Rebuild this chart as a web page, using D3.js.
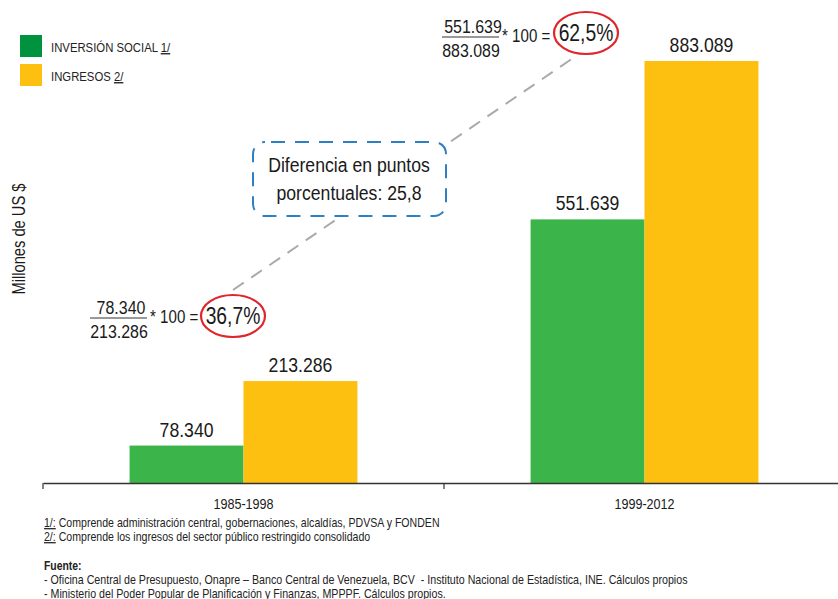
<!DOCTYPE html>
<html>
<head>
<meta charset="utf-8">
<script src="https://cdn.jsdelivr.net/npm/d3@7"></script>
<style>
  html, body { margin: 0; padding: 0; background: #fff; }
  svg { display: block; font-family: "Liberation Sans", Arial, sans-serif; }
</style>
</head>
<body>
<svg id="chart" width="838" height="599"></svg>
<script>
// Periods and series (millones de US $)
const periods = ["1985-1998", "1999-2012"];
const inversionSocial = [78340, 551639];
const ingresos = [213286, 883089];
const seriesNames = ["INVERSIÓN SOCIAL", "INGRESOS"];
const seriesNotes = ["1/", "2/"];
const footnotes = [
  ["1/:", " Comprende administración central, gobernaciones, alcaldías, PDVSA y FONDEN"],
  ["2/:", " Comprende los ingresos del sector público restringido consolidado"]
];
const sources = [
  "- Oficina Central de Presupuesto, Onapre – Banco Central de Venezuela, BCV  - Instituto Nacional de Estadística, INE. Cálculos propios",
  "- Ministerio del Poder Popular de Planificación y Finanzas, MPPPF. Cálculos propios."
];

const GREEN = "#3bb54a", GREEN_LEGEND = "#00923f", YELLOW = "#fdc010";
const RED = "#e0262c", BLUE = "#2e7fc3", INK = "#1a1a1a";
const NARROW = 0.84; // horizontal squeeze for a condensed look

const es = d3.formatLocale({ decimal: ",", thousands: ".", grouping: [3], currency: ["", "$"] });
const fmtNum = es.format(",d");
const fmtPct = es.format(".1f");

const svg = d3.select("#chart");

// Scales
const x = d3.scaleBand().domain(periods).range([43, 845]);
const xSub = d3.scaleBand().domain([0, 1]).range([0, x.bandwidth()]).paddingOuter(0.76).paddingInner(0);
const y = d3.scaleLinear().domain([0, d3.max(ingresos)]).range([483, 61]);

const rows = periods.map((p, i) => ({ period: p, values: [inversionSocial[i], ingresos[i]] }));

// Bars with value labels
const g = svg.append("g");
rows.forEach(r => {
  r.values.forEach((v, k) => {
    const bx = x(r.period) + xSub(k);
    g.append("rect")
      .attr("x", bx).attr("width", xSub.bandwidth())
      .attr("y", y(v)).attr("height", y(0) - y(v))
      .attr("fill", k === 0 ? GREEN : YELLOW);
    g.append("text")
      .attr("x", bx + xSub.bandwidth() / 2).attr("y", y(v) - 9)
      .attr("text-anchor", "middle").attr("font-size", 21).attr("fill", INK)
      .text(fmtNum(v));
  });
});

// X axis
const axis = svg.append("g").attr("transform", `translate(0,${y(0)})`)
  .call(d3.axisBottom(x).tickSize(0).tickPadding(15));
axis.select(".domain").attr("stroke", "#333").attr("stroke-width", 1.5);
axis.selectAll(".tick text").attr("font-size", 15).attr("fill", INK)
  .attr("font-family", "Liberation Sans, Arial, sans-serif");
[x.range()[0], x(periods[1])].forEach(t => {
  axis.append("line").attr("x1", t).attr("x2", t).attr("y1", 0).attr("y2", 6)
    .attr("stroke", "#333").attr("stroke-width", 1.2);
});

// Y axis title
svg.append("text")
  .attr("transform", "translate(25,239) rotate(-90)")
  .attr("text-anchor", "middle").attr("font-size", 17.5).attr("fill", INK)
  .text("Millones de US $");

// Legend
[GREEN_LEGEND, YELLOW].forEach((c, i) => {
  const ly = 35 + i * 29;
  svg.append("rect").attr("x", 20).attr("y", ly).attr("width", 22).attr("height", 22).attr("fill", c);
  const t = svg.append("text").attr("x", 51).attr("y", ly + 17).attr("font-size", 13.5).attr("fill", "#222");
  t.append("tspan").text(seriesNames[i] + " ");
  t.append("tspan").attr("text-decoration", "underline").text(seriesNotes[i]);
});

// Ratio annotations
const pct = periods.map((p, i) => +(inversionSocial[i] / ingresos[i] * 100).toFixed(1));
const diff = pct[1] - pct[0];

const formulas = [
  { i: 0, fx: 119, fy: 318, cx: 233, cy: 316 },
  { i: 1, fx: 471, fy: 37, cx: 586, cy: 33 }
];

// dashed link between the two percentages
svg.append("line")
  .attr("x1", formulas[0].cx).attr("y1", formulas[0].cy - 26)
  .attr("x2", formulas[1].cx - 10).attr("y2", formulas[1].cy + 23)
  .attr("stroke", "#aaa").attr("stroke-width", 2).attr("stroke-dasharray", "13,9");

formulas.forEach(f => {
  const gf = svg.append("g").attr("fill", INK);
  gf.append("text").attr("x", f.fx + 2).attr("y", f.fy - 4).attr("text-anchor", "middle")
    .attr("font-size", 19).text(fmtNum(inversionSocial[f.i]));
  gf.append("line").attr("x1", f.fx - 29).attr("x2", f.fx + 28).attr("y1", f.fy).attr("y2", f.fy)
    .attr("stroke", "#333").attr("stroke-width", 1);
  gf.append("text").attr("x", f.fx).attr("y", f.fy + 20).attr("text-anchor", "middle")
    .attr("font-size", 19).text(fmtNum(ingresos[f.i]));
  gf.append("text").attr("x", f.fx + 31).attr("y", f.fy + 5).attr("font-size", 18).text("* 100 =");
  gf.append("ellipse").attr("cx", f.cx).attr("cy", f.cy).attr("rx", 32).attr("ry", 21)
    .attr("fill", "#fff").attr("stroke", RED).attr("stroke-width", 2.2);
  gf.append("text").attr("x", f.cx).attr("y", f.cy + 8).attr("text-anchor", "middle")
    .attr("font-size", 23).text(fmtPct(pct[f.i]) + "%");
});

// Difference box
svg.append("rect").attr("x", 253).attr("y", 142).attr("width", 193).attr("height", 74)
  .attr("rx", 12).attr("fill", "#fff").attr("stroke", BLUE).attr("stroke-width", 2)
  .attr("stroke-dasharray", "14,10").attr("stroke-dashoffset", -6);
const bt = svg.append("text").attr("x", 349).attr("text-anchor", "middle").attr("font-size", 21).attr("fill", INK);
bt.append("tspan").attr("x", 349).attr("y", 172).text("Diferencia en puntos");
bt.append("tspan").attr("x", 349).attr("y", 200).text("porcentuales: " + fmtPct(diff));

// Footnotes and sources
footnotes.forEach((fn, i) => {
  const t = svg.append("text").attr("x", 44).attr("y", 527 + i * 14).attr("font-size", 12.6).attr("fill", "#222");
  t.append("tspan").attr("text-decoration", "underline").text(fn[0]);
  t.append("tspan").text(fn[1]);
});
svg.append("text").attr("x", 44).attr("y", 570).attr("font-size", 12.4).attr("font-weight", "bold")
  .attr("fill", "#222").text("Fuente:");
sources.forEach((s, i) => {
  svg.append("text").attr("x", 44).attr("y", 584 + i * 14).attr("font-size", 12.7)
    .attr("xml:space", "preserve").attr("fill", "#222").text(s);
});

// Condense every label horizontally around its anchor point
svg.selectAll("text").each(function () {
  const el = d3.select(this);
  const ax = +(el.attr("x") || 0);
  const prev = el.attr("transform") || "";
  el.attr("transform", `${prev} translate(${ax * (1 - NARROW)},0) scale(${NARROW},1)`.trim());
});
</script>
</body>
</html>
